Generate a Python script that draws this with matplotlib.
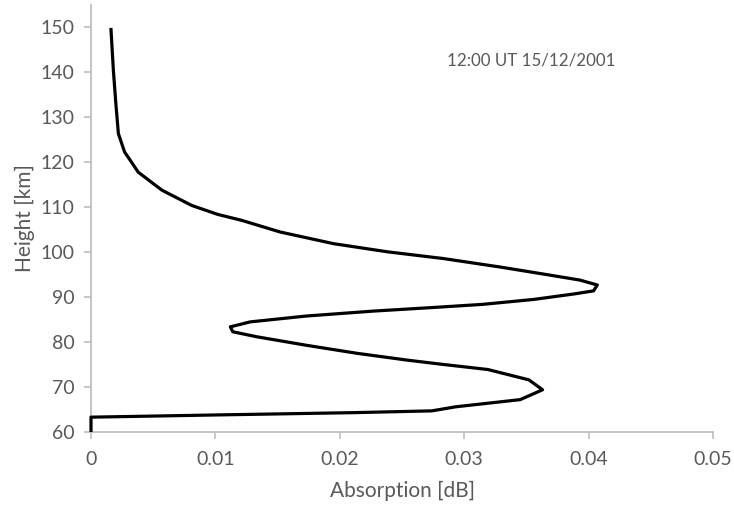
import matplotlib
matplotlib.use("Agg")
import matplotlib.pyplot as plt

absorption = [0.0, 0.0, 0.0102, 0.0210, 0.0274, 0.0293, 0.0345, 0.0363, 0.0352, 0.0319,
              0.0281, 0.0254, 0.0214, 0.0173, 0.0133, 0.0114, 0.0112, 0.0128, 0.0173,
              0.0227, 0.0275, 0.0315, 0.0356, 0.0388, 0.0404, 0.0407, 0.0393, 0.0369,
              0.0329, 0.0283, 0.0238, 0.0195, 0.0152, 0.0121, 0.0102, 0.0081, 0.0057,
              0.0038, 0.0027, 0.0022, 0.0020, 0.0018, 0.0016]
height = [60.0, 63.3, 63.8, 64.3, 64.7, 65.6, 67.2, 69.4, 71.6, 73.9,
          75.1, 76.0, 77.5, 79.3, 81.2, 82.3, 83.4, 84.5, 85.8,
          86.9, 87.7, 88.4, 89.5, 90.7, 91.4, 92.7, 93.8, 94.9,
          96.7, 98.6, 100.1, 101.9, 104.5, 107.1, 108.4, 110.4, 113.8,
          117.8, 122.3, 126.4, 133.0, 140.4, 149.9]
x_ticks = [0, 0.01, 0.02, 0.03, 0.04, 0.05]
x_tick_labels = ["0", "0.01", "0.02", "0.03", "0.04", "0.05"]
y_ticks = [60, 70, 80, 90, 100, 110, 120, 130, 140, 150]
annotation = "12:00 UT 15/12/2001"

plt.rcParams['font.family'] = ['Lato', 'DejaVu Sans']
grey = '#595959'
spine_c = '#bfbfbf'

fig = plt.figure(figsize=(7.34, 5.08), dpi=100)
ax = fig.add_axes([91/734, 76/508, 622/734, 503/508 - 76/508])
ax.plot(absorption, height, color='black', lw=2.3, solid_joinstyle='round',
        solid_capstyle='butt', clip_on=False, zorder=3)
ax.set_xlim(0, 0.05)
ax.set_ylim(60, 155)
ax.set_xticks(x_ticks)
ax.set_xticklabels(x_tick_labels)
ax.set_yticks(y_ticks)
for s in ['top', 'right']:
    ax.spines[s].set_visible(False)
for s in ['left', 'bottom']:
    ax.spines[s].set_color(spine_c)
    ax.spines[s].set_linewidth(1.3)
ax.tick_params(axis='both', colors=spine_c, labelcolor=grey, labelsize=14, length=5, width=1.2, direction='out')
ax.tick_params(axis='x', pad=9)
ax.tick_params(axis='y', pad=7)
ax.set_xlabel("Absorption [dB]", color=grey, fontsize=15, labelpad=9)
ax.set_ylabel("Height [km]", color=grey, fontsize=15, labelpad=4)
ax.text(0.0286, 142.7, annotation, color=grey, fontsize=12.2, va='center', ha='left')
fig.savefig("out.png", dpi=100)
